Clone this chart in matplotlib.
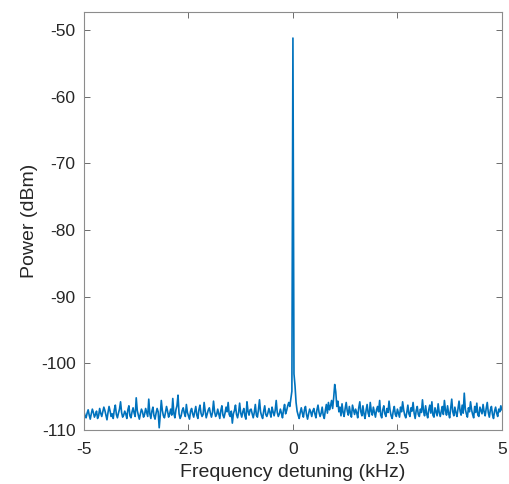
import matplotlib
matplotlib.use('Agg')
import matplotlib.pyplot as plt
import numpy as np

# ----------------------------------------
# Data (kHz, dBm), 25 Hz spacing
# ----------------------------------------
floor_left = [
    -107.3, -107.9, -108.2, -107.5, -107.0, -107.8, -108.4, -107.6, -106.9, -107.4,
    -108.1, -107.7, -107.2, -108.3, -107.9, -106.8, -107.5, -108.0, -107.3, -106.6,
    -107.1, -107.8, -108.5, -107.4, -106.5, -107.2, -108.0, -107.6, -108.3, -107.0,
    -106.3, -107.7, -108.2, -107.5, -106.9, -105.8, -107.4, -108.1, -107.8, -107.2,
    -107.6, -108.3, -107.0, -106.4, -107.9, -108.2, -107.3, -106.7, -107.5, -108.0,
    -105.2, -107.1, -107.8, -108.4, -107.6, -106.9, -107.3, -108.1, -107.7, -106.8,
    -107.4, -108.0, -105.4, -107.6, -108.3, -107.2, -106.6, -107.9, -108.4, -107.5,
    -106.8, -107.3, -109.7, -107.8, -105.6, -107.1, -107.9, -108.2, -107.4, -106.5,
    -107.2, -108.1, -107.6, -106.9, -107.8, -105.3, -107.5, -108.2, -107.0, -106.4,
    -104.8, -107.6, -108.3, -107.9, -107.1, -106.7, -107.5, -108.0, -106.2, -107.4,
    -107.9, -108.4, -107.2, -106.8, -107.6, -108.1, -107.3, -106.5, -107.8, -108.3,
    -107.0, -106.3, -107.5, -108.0, -107.7, -105.9, -107.2, -108.2, -107.6, -107.0,
    -106.7, -107.5, -108.1, -107.4, -105.7, -107.3, -108.0, -107.7, -106.9, -107.6,
    -108.3, -107.1, -106.4, -107.8, -108.2, -107.5, -106.6, -107.3, -105.9, -107.7,
    -108.0, -107.2, -109.0, -107.6, -107.1, -106.3, -107.7, -108.2, -107.4, -106.0,
    -107.5, -108.1, -107.3, -106.8, -107.9, -108.4, -105.8, -107.2, -107.8, -107.0,
    -106.9, -107.6, -108.2, -107.4, -106.2, -107.8, -108.1, -107.0, -105.5, -107.3,
    -107.9, -108.3, -107.2, -106.4, -107.7, -108.0, -107.5, -106.8, -107.4, -108.1,
    -106.6, -107.3, -107.9, -107.1, -105.6, -107.4, -108.0, -107.6, -106.9, -107.5,
    -108.2, -107.0, -106.2, -107.6, -107.1, -106.4, -105.9, -106.5, -105.3, -104.2,
]
peak_power = -51.2
floor_right = [
    -101.6, -103.4, -105.9, -107.2, -107.8, -108.3, -107.4, -106.7, -107.5, -108.1,
    -107.0, -106.5, -107.7, -108.4, -107.6, -106.9, -107.3, -108.0, -107.2, -106.8,
    -107.6, -108.2, -107.0, -106.3, -107.4, -108.0, -107.5, -106.6, -107.8, -108.3,
    -107.1, -106.2, -107.5, -105.9, -107.0, -106.4, -105.6, -106.8, -105.2, -103.2,
    -104.3, -106.5, -105.7, -107.3, -106.6, -107.9, -106.1, -107.4, -108.0, -106.8,
    -105.9, -107.2, -107.8, -106.5, -107.5, -108.1, -106.3, -107.0, -107.7, -106.9,
    -107.4, -108.2, -106.7, -105.8, -107.3, -107.9, -106.4, -107.6, -108.3, -107.1,
    -106.2, -107.5, -108.0, -105.9, -107.2, -107.8, -106.6, -107.4, -108.1, -107.0,
    -106.5, -107.3, -105.6, -107.8, -108.2, -107.0, -106.4, -107.6, -108.0, -106.8,
    -107.4, -105.7, -107.1, -107.9, -108.3, -107.2, -106.5, -107.7, -108.0, -106.9,
    -107.5, -108.1, -106.6, -107.3, -105.8, -107.0, -107.8, -108.2, -107.4, -106.3,
    -107.6, -108.0, -106.7, -107.2, -105.9, -107.5, -108.3, -107.1, -106.5, -107.7,
    -108.0, -106.9, -107.4, -105.5, -107.2, -107.9, -106.4, -107.6, -108.2, -107.0,
    -106.3, -107.5, -105.8, -107.8, -108.1, -106.7, -107.3, -107.9, -106.1, -107.4,
    -108.0, -107.2, -106.5, -107.7, -105.6, -107.1, -107.8, -106.4, -107.5, -108.2,
    -106.8, -105.4, -107.3, -107.9, -106.6, -107.4, -108.0, -106.9, -105.7, -107.2,
    -107.8, -106.3, -107.5, -104.5, -106.9, -107.6, -108.1, -106.7, -107.3, -105.8,
    -107.0, -107.7, -108.2, -106.5, -107.4, -106.0, -107.8, -108.0, -106.6, -107.1,
    -107.6, -106.2, -107.3, -107.9, -106.8, -105.9, -107.4, -108.1, -107.0, -106.5,
    -107.7, -108.3, -107.2, -106.6, -107.5, -108.0, -106.9, -107.3, -106.4, -107.0,
]

freq = np.linspace(-5, 5, len(floor_left) + 1 + len(floor_right))
power = np.concatenate([floor_left, [peak_power], floor_right])

# ----------------------------------------
# Plot
# ----------------------------------------
plt.rcParams['font.family'] = ['Liberation Sans', 'DejaVu Sans']
plt.rcParams['axes.unicode_minus'] = False

fig = plt.figure(figsize=(5.09, 4.84), dpi=100)
ax = fig.add_axes([0.165, 0.112, 0.821, 0.863])

ax.plot(freq, power, color='#0072BD', linewidth=1.2)

ax.set_xlim(-5, 5)
ax.set_ylim(-110, -47.3)
ax.set_xticks([-5, -2.5, 0, 2.5, 5])
ax.set_xticklabels(['-5', '-2.5', '0', '2.5', '5'])
ax.set_yticks([-110, -100, -90, -80, -70, -60, -50])

ax.tick_params(direction='in', length=4, width=0.6, top=True, right=True,
               labelsize=12.5, colors='#555555', labelcolor='#262626', pad=6)
ax.tick_params(axis='x', pad=9)
for sp in ax.spines.values():
    sp.set_color('#8c8c8c')
    sp.set_linewidth(0.8)

ax.set_xlabel('Frequency detuning (kHz)', fontsize=14, color='#262626', labelpad=5)
ax.set_ylabel('Power (dBm)', fontsize=14, color='#262626', labelpad=2)

fig.savefig('out.png', dpi=100)
